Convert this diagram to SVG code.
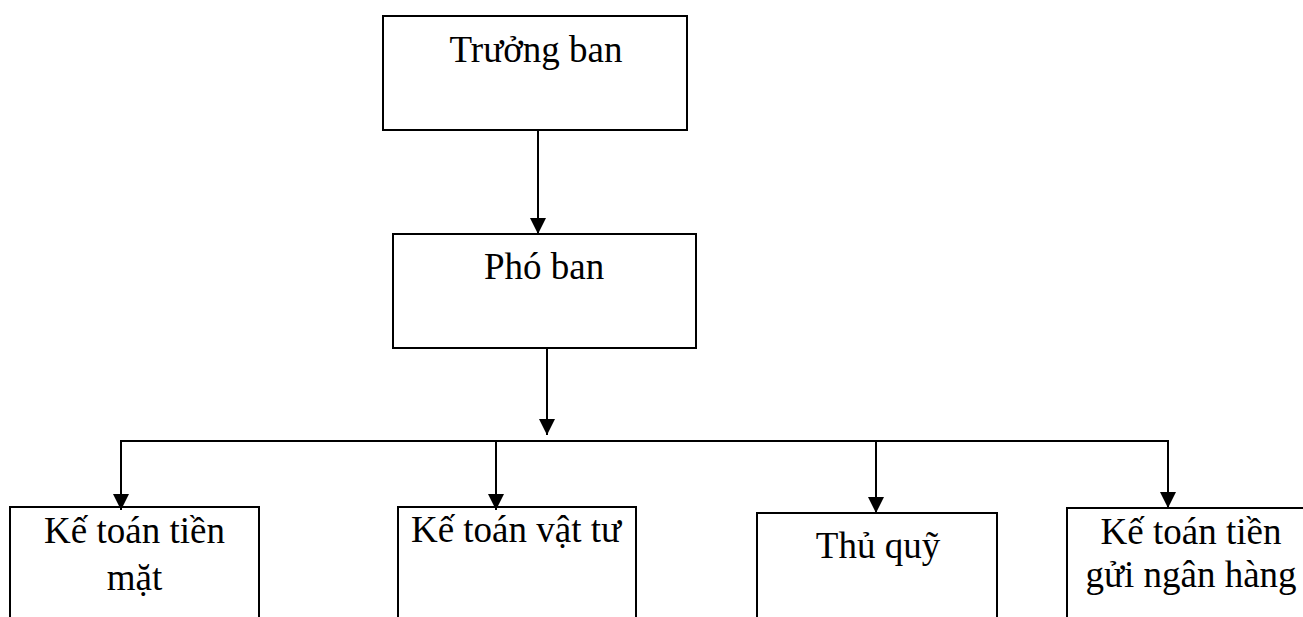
<svg xmlns="http://www.w3.org/2000/svg" width="1303" height="617" viewBox="0 0 1303 617">
<style>
.box{fill:#fff;stroke:#000;stroke-width:2}
.lbl{font-family:"Liberation Serif","Times New Roman",serif;font-size:37px;fill:#000;text-anchor:middle}
.con{fill:none;stroke:#000;stroke-width:2}
</style>
<defs>
<marker id="arr" markerUnits="userSpaceOnUse" markerWidth="16" markerHeight="16" viewBox="0 0 16 16" refX="16" refY="8" orient="auto">
<path d="M0,0 L16,8 L0,16 z" fill="#000"/>
</marker>
</defs>
<rect width="1303" height="617" fill="#fff"/>
<g id="truong-ban"><rect class="box" x="383" y="16" width="304" height="114"/><text class="lbl" x="536" y="62">Trưởng ban</text></g>
<g id="pho-ban"><rect class="box" x="393" y="234" width="303" height="114"/><text class="lbl" x="544" y="279">Phó ban</text></g>
<g id="ke-toan-tien-mat"><rect class="box" x="10" y="507" width="249" height="130"/><text class="lbl" x="134.5" y="543">Kế toán tiền</text><text class="lbl" x="134.5" y="590">mặt</text></g>
<g id="ke-toan-vat-tu"><rect class="box" x="398" y="507" width="238" height="130"/><text class="lbl" x="516" y="542">Kế toán vật tư</text></g>
<g id="thu-quy"><rect class="box" x="757" y="513" width="240" height="130"/><text class="lbl" x="878" y="558">Thủ quỹ</text></g>
<g id="ke-toan-tien-gui"><rect class="box" x="1067" y="508" width="250" height="130"/><text class="lbl" x="1191" y="544">Kế toán tiền</text><text class="lbl" x="1191" y="587">gửi ngân hàng</text></g>
<g id="connectors">
<path class="con" d="M538,130 V234" marker-end="url(#arr)"/>
<path class="con" d="M547,348 V435" marker-end="url(#arr)"/>
<path class="con" d="M121,441 H1168"/>
<path class="con" d="M121,440 V510" marker-end="url(#arr)"/>
<path class="con" d="M496,440 V510" marker-end="url(#arr)"/>
<path class="con" d="M876,440 V513" marker-end="url(#arr)"/>
<path class="con" d="M1168,440 V508" marker-end="url(#arr)"/>
</g>
</svg>
